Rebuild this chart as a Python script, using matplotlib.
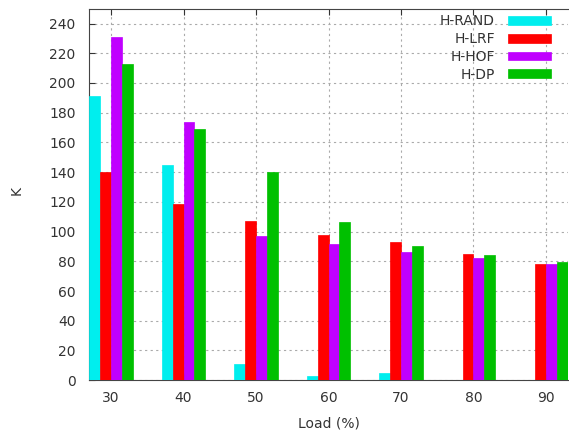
import numpy as np
import matplotlib
matplotlib.use("Agg")
import matplotlib.pyplot as plt

# Data
loads = [30, 40, 50, 60, 70, 80, 90]
h_rand = [191, 145, 11, 2.5, 4.5, 0, 0]
h_lrf = [140, 118.5, 107, 97.5, 92.7, 85, 78]
h_hof = [231, 174, 97, 91.5, 86.4, 82, 78]
h_dp = [213, 169, 140, 106.4, 90, 84.4, 79.7]

series = [("H-RAND", h_rand, "#00EEEE"),
          ("H-LRF", h_lrf, "#FF0000"),
          ("H-HOF", h_hof, "#C000FF"),
          ("H-DP", h_dp, "#00C000")]

plt.rcParams["font.family"] = "DejaVu Sans"
plt.rcParams["font.size"] = 10

fig = plt.figure(figsize=(5.69, 4.34), dpi=100)
ax = fig.add_axes([0.157, 0.124, 0.842, 0.856])

x = np.array(loads, dtype=float)
w = 1.5
for i, (name, vals, col) in enumerate(series):
    ax.bar(x + (i - 1.5) * w, vals, width=w, color=col, label=name,
           edgecolor=col, linewidth=0.5, zorder=3)

ax.set_xlim(27, 93.1)
ax.set_ylim(0, 250)
ax.set_xticks(loads)
ax.set_yticks(range(0, 241, 20))
ax.tick_params(direction="in", length=4, top=True, right=False,
               colors="#333333", labelcolor="#333333")
ax.tick_params(axis="x", pad=8)
ax.tick_params(axis="y", pad=10)
ax.grid(True, linestyle=(0, (2, 3)), color="#aaaaaa", linewidth=0.8, zorder=0)
for s in ax.spines.values():
    s.set_color("#444444")
ax.spines["right"].set_visible(False)

ax.set_xlabel("Load (%)", color="#333333", labelpad=8)
ax.set_ylabel("K", color="#333333")
ax.yaxis.set_label_coords(-0.137, 0.51)

leg = ax.legend(loc="upper right", frameon=False, markerfirst=False,
                handlelength=3.1, handleheight=0.6, labelspacing=0.27,
                handletextpad=0.9, borderaxespad=0.3,
                bbox_to_anchor=(0.983, 1.011))
for t in leg.get_texts():
    t.set_color("#333333")

fig.savefig("out.png", dpi=100)
